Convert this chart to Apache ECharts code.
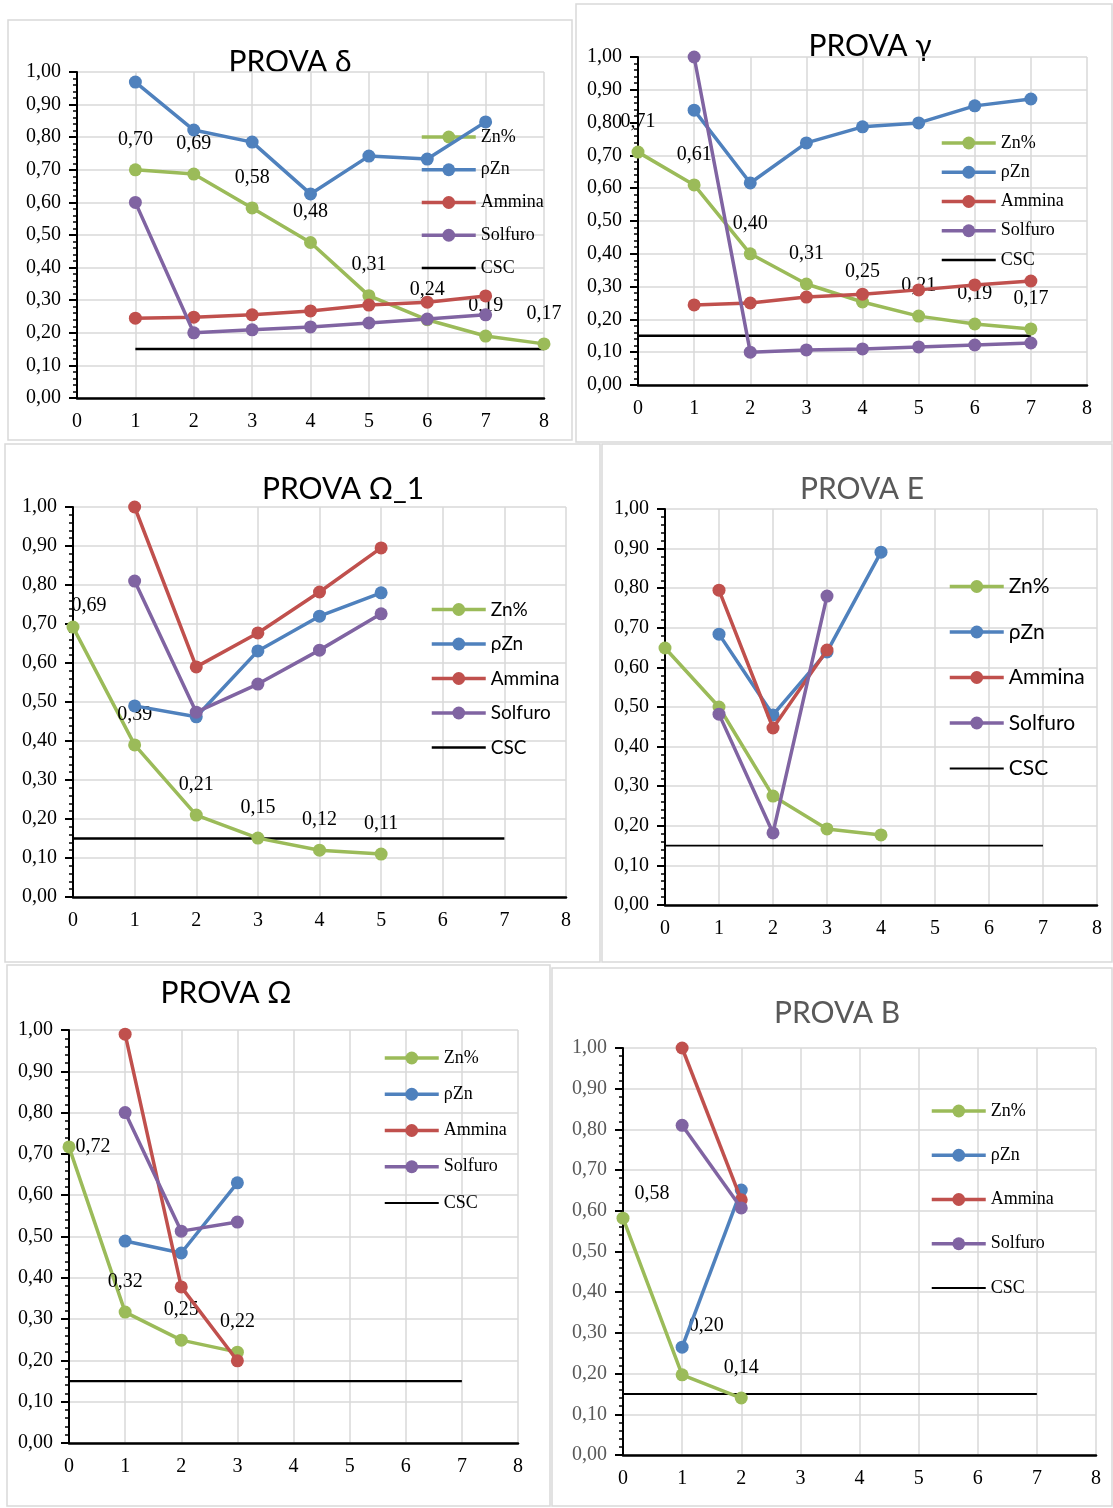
<!DOCTYPE html>
<html>
<head>
<meta charset="utf-8">
<script src="https://cdn.jsdelivr.net/npm/echarts@6/dist/echarts.min.js"></script>
<style>
  html, body { margin: 0; padding: 0; background: #fff; }
  #main { width: 1113px; height: 1508px; }
</style>
</head>
<body>
<div id="main"></div>
<script>
// PROVA δ
const deltaSteps = [1, 2, 3, 4, 5, 6, 7, 8];
const deltaZn = [0.70, 0.687, 0.583, 0.477, 0.314, 0.24, 0.19, 0.166];
const deltaRhoZn = [0.969, 0.822, 0.785, 0.626, 0.742, 0.733, 0.847, null];
const deltaAmmina = [0.245, 0.248, 0.255, 0.267, 0.285, 0.294, 0.313, null];
const deltaSolfuro = [0.60, 0.20, 0.209, 0.218, 0.23, 0.242, 0.255, null];
const deltaCsc = [1, 8];

// PROVA γ
const gammaSteps = [0, 1, 2, 3, 4, 5, 6, 7];
const gammaZn = [0.71, 0.61, 0.40, 0.308, 0.253, 0.21, 0.186, 0.171];
const gammaRhoZn = [null, 0.838, 0.616, 0.738, 0.787, 0.799, 0.851, 0.872];
const gammaAmmina = [null, 0.244, 0.25, 0.268, 0.277, 0.29, 0.305, 0.317];
const gammaSolfuro = [null, 1.00, 0.10, 0.107, 0.11, 0.116, 0.122, 0.128];
const gammaCsc = [0, 7];

// PROVA Ω_1
const omega1Steps = [0, 1, 2, 3, 4, 5];
const omega1Zn = [0.692, 0.39, 0.21, 0.151, 0.12, 0.11];
const omega1RhoZn = [null, 0.49, 0.462, 0.631, 0.72, 0.78];
const omega1Ammina = [null, 1.00, 0.59, 0.677, 0.782, 0.895];
const omega1Solfuro = [null, 0.81, 0.474, 0.546, 0.633, 0.726];
const omega1Csc = [0, 7];

// PROVA E
const eSteps = [0, 1, 2, 3, 4];
const eZn = [0.649, 0.50, 0.275, 0.192, 0.177];
const eRhoZn = [null, 0.684, 0.48, 0.639, 0.891];
const eAmmina = [null, 0.795, 0.447, 0.644, null];
const eSolfuro = [null, 0.482, 0.182, 0.78, null];
const eCsc = [0, 7];

// PROVA Ω
const omegaSteps = [0, 1, 2, 3];
const omegaZn = [0.717, 0.317, 0.249, 0.22];
const omegaRhoZn = [null, 0.489, 0.46, 0.63];
const omegaAmmina = [null, 0.99, 0.378, 0.199];
const omegaSolfuro = [null, 0.80, 0.513, 0.535];
const omegaCsc = [0, 7];

// PROVA B
const bSteps = [0, 1, 2];
const bZn = [0.582, 0.197, 0.14];
const bRhoZn = [null, 0.265, 0.651];
const bAmmina = [null, 1.00, 0.627];
const bSolfuro = [null, 0.81, 0.607];
const bCsc = [0, 7];

const cscLevel = 0.15;
const seriesNames = ['Zn%', 'ρZn', 'Ammina', 'Solfuro', 'CSC'];
const seriesColors = ['#9BBB59', '#4F81BD', '#C0504D', '#8064A2', '#000000'];

const serif = "'Liberation Serif', 'Times New Roman', serif";
const sans = "Lato, 'Open Sans', 'Noto Sans', sans-serif";

const panels = [
  { title: 'PROVA δ', tColor: '#000', tx: 290, ty: 62, box: [8, 20, 564, 420],
    grid: [77, 72, 467, 326], steps: deltaSteps,
    vals: [deltaZn, deltaRhoZn, deltaAmmina, deltaSolfuro], csc: deltaCsc, labels: true, tweaks: {},
    lg: { left: 420, top: 128, gap: 14.75, font: serif, size: 18 }, tick: '#000', cscW: 2.5 },
  { title: 'PROVA γ', tColor: '#000', tx: 870, ty: 46, box: [576, 4, 536, 438],
    grid: [638, 57, 449, 328], steps: gammaSteps,
    vals: [gammaZn, gammaRhoZn, gammaAmmina, gammaSolfuro], csc: gammaCsc, labels: true, tweaks: {},
    lg: { left: 940, top: 134, gap: 11.25, font: serif, size: 18 }, tick: '#000', cscW: 2.5 },
  { title: 'PROVA Ω_1', tColor: '#000', tx: 343, ty: 489, box: [5, 444, 595, 518],
    grid: [73, 507, 493, 390], steps: omega1Steps,
    vals: [omega1Zn, omega1RhoZn, omega1Ammina, omega1Solfuro], csc: omega1Csc, labels: true,
    tweaks: { 0: { offset: [16, 9] } },
    lg: { left: 430, top: 600, gap: 15.5, font: sans, size: 19 }, tick: '#000', cscW: 2.5 },
  { title: 'PROVA E', tColor: '#595959', tx: 862, ty: 489, box: [602, 444, 510, 518],
    grid: [665, 509, 432, 396], steps: eSteps,
    vals: [eZn, eRhoZn, eAmmina, eSolfuro], csc: eCsc, labels: false, tweaks: {},
    lg: { left: 948, top: 576, gap: 24.5, font: sans, size: 21 }, tick: '#000', cscW: 1.8 },
  { title: 'PROVA Ω', tColor: '#000', tx: 226, ty: 993, box: [7, 965, 543, 541],
    grid: [69, 1030, 449, 413], steps: omegaSteps,
    vals: [omegaZn, omegaRhoZn, omegaAmmina, omegaSolfuro], csc: omegaCsc, labels: true,
    tweaks: { 0: { position: 'right', distance: 0 } },
    lg: { left: 383, top: 1049, gap: 18.25, font: serif, size: 18 }, tick: '#000', cscW: 2.2 },
  { title: 'PROVA B', tColor: '#595959', tx: 837, ty: 1013, box: [552, 968, 560, 538],
    grid: [623, 1048, 473, 407], steps: bSteps,
    vals: [bZn, bRhoZn, bAmmina, bSolfuro], csc: bCsc, labels: true,
    tweaks: { 0: { offset: [29, 6] }, 1: { offset: [24, -19] } },
    lg: { left: 930, top: 1102, gap: 26.25, font: serif, size: 18 }, tick: '#595959', cscW: 2 }
];

const fmt = v => v.toFixed(2).replace('.', ',');

const grids = [], xAxes = [], yAxes = [], legends = [], series = [], graphics = [];

panels.forEach((p, i) => {
  grids.push({ left: p.grid[0], top: p.grid[1], width: p.grid[2], height: p.grid[3] });
  xAxes.push({
    type: 'value', gridIndex: i, min: 0, max: 8, interval: 1,
    axisLine: { lineStyle: { color: '#000', width: 2.5 } },
    axisTick: { show: false },
    axisLabel: { margin: 14, fontFamily: serif, fontSize: 20, color: '#000' },
    splitLine: { lineStyle: { color: '#d9d9d9', width: 1.5 } }
  });
  yAxes.push({
    type: 'value', gridIndex: i, min: 0, max: 1, interval: 0.1,
    axisLine: { show: true, lineStyle: { color: '#000', width: 2 } },
    axisTick: { show: true, length: 8, lineStyle: { color: '#000', width: 2 } },
    minorTick: { show: true, splitNumber: 5, length: 4, lineStyle: { color: '#000', width: 1.5 } },
    axisLabel: { margin: 16, fontFamily: serif, fontSize: 20, color: p.tick, formatter: fmt },
    splitLine: { lineStyle: { color: '#d9d9d9', width: 1.5 } }
  });

  // legend entries: line + marker, CSC plain line
  const legendData = seriesNames.map((n, k) => k < 4
    ? { name: n, itemStyle: { color: seriesColors[k] }, lineStyle: { color: seriesColors[k], width: 3.5 } }
    : { name: n, itemStyle: { color: 'rgba(0,0,0,0)', borderWidth: 0 }, lineStyle: { color: '#000', width: p.cscW } });
  legends.push({
    orient: 'vertical', left: p.lg.left, top: p.lg.top, itemGap: p.lg.gap,
    itemWidth: 54, itemHeight: 16, padding: 0, selectedMode: false,
    data: legendData,
    textStyle: { fontFamily: p.lg.font, fontSize: p.lg.size, color: '#000' }
  });

  p.vals.forEach((vals, k) => {
    const data = [];
    p.steps.forEach((s, j) => {
      if (vals[j] == null) return;
      const item = { value: [s, vals[j]] };
      if (k === 0 && p.tweaks[j]) item.label = p.tweaks[j];
      data.push(item);
    });
    series.push({
      type: 'line', name: seriesNames[k], xAxisIndex: i, yAxisIndex: i,
      data: data, symbol: 'circle', symbolSize: 13,
      lineStyle: { color: seriesColors[k], width: 3.5 },
      itemStyle: { color: seriesColors[k] },
      label: {
        show: k === 0 && p.labels, position: 'top', distance: 14,
        fontFamily: serif, fontSize: 20, color: '#000',
        formatter: q => fmt(q.value[1])
      },
      z: 3 + k
    });
  });
  series.push({
    type: 'line', name: 'CSC', xAxisIndex: i, yAxisIndex: i,
    data: [[p.csc[0], cscLevel], [p.csc[1], cscLevel]],
    symbol: 'none', itemStyle: { color: '#000' },
    lineStyle: { color: '#000', width: p.cscW }, z: 2
  });

  graphics.push({
    type: 'rect', shape: { x: p.box[0], y: p.box[1], width: p.box[2], height: p.box[3] },
    style: { fill: 'none', stroke: '#d9d9d9', lineWidth: 1.5 }, silent: true
  });
  graphics.push({
    type: 'text', x: p.tx, y: p.ty, silent: true,
    style: { text: p.title, fill: p.tColor, font: '30px ' + sans, textAlign: 'center', textVerticalAlign: 'middle' }
  });
});

const chart = echarts.init(document.getElementById('main'));
chart.setOption({
  animation: false,
  backgroundColor: '#fff',
  grid: grids,
  xAxis: xAxes,
  yAxis: yAxes,
  legend: legends,
  series: series,
  graphic: graphics
});
</script>
</body>
</html>
